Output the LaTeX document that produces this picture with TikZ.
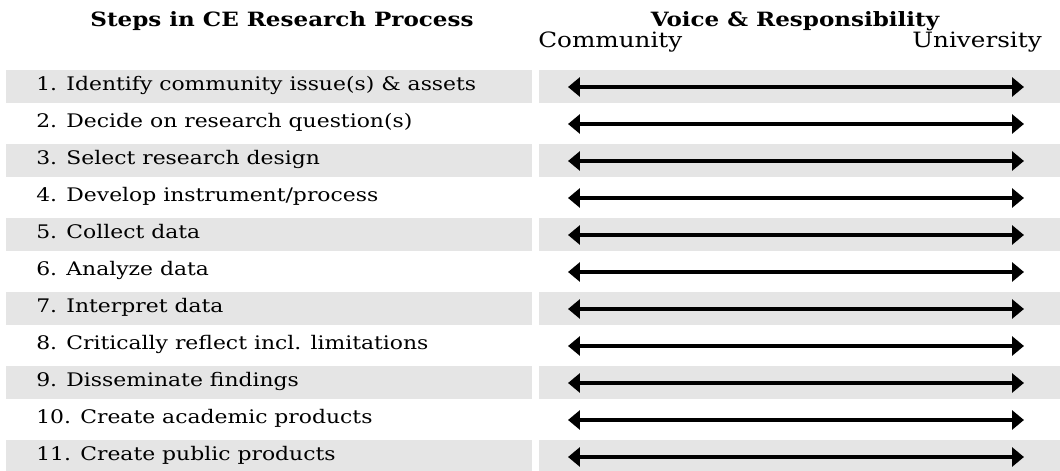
\documentclass[tikz,border=0pt]{standalone}
\usepackage{fontspec}
\setmainfont{DejaVu Serif}[FakeStretch=1.17]
\usetikzlibrary{arrows.meta}

\tikzset{
  stepname/.style={anchor=base west, inner sep=0pt, font=\fontsize{13.3}{15}\selectfont},
  colhead/.style={anchor=base, inner sep=0pt, font=\fontsize{14}{17}\selectfont\bfseries},
  sidehead/.style={inner sep=0pt, font=\fontsize{15}{17}\selectfont},
  stripe/.style={fill=gray!20},
  link/.style={line width=2.5pt, {Triangle[length=8.5pt,width=13.5pt]}-{Triangle[length=8.5pt,width=13.5pt]}}
}

\begin{document}
\begin{tikzpicture}[x=0.025cm,y=-0.025cm]
\useasboundingbox (0,0) rectangle (1060,471);
    % grey stripes, odd rows
    \fill[stripe] (6,70) rectangle (532,103);   \fill[stripe] (539,70) rectangle (1060,103);
    \fill[stripe] (6,144) rectangle (532,177);  \fill[stripe] (539,144) rectangle (1060,177);
    \fill[stripe] (6,218) rectangle (532,251);  \fill[stripe] (539,218) rectangle (1060,251);
    \fill[stripe] (6,292) rectangle (532,325);  \fill[stripe] (539,292) rectangle (1060,325);
    \fill[stripe] (6,366) rectangle (532,399);  \fill[stripe] (539,366) rectangle (1060,399);
    \fill[stripe] (6,440) rectangle (532,471);  \fill[stripe] (539,440) rectangle (1060,471);
    % headings
    \node[colhead] (steps) at (282,27) {Steps in CE Research Process};
    \node[colhead] (voice) at (795,27) {Voice \& Responsibility};
    \node[sidehead, anchor=base west] (comm) at (538,48) {Community};
    \node[sidehead, anchor=base east] (univ) at (1042,48) {University};
    % steps
    \node[stepname] (s1) at (36,91) {1. Identify community issue(s) \& assets};
    \node[stepname] (s2) at (36,128) {2. Decide on research question(s)};
    \node[stepname] (s3) at (36,165) {3. Select research design};
    \node[stepname] (s4) at (36,202) {4. Develop instrument/process};
    \node[stepname] (s5) at (36,239) {5. Collect data};
    \node[stepname] (s6) at (36,276) {6. Analyze data};
    \node[stepname] (s7) at (36,313) {7. Interpret data};
    \node[stepname] (s8) at (36,350) {8. Critically reflect incl. limitations};
    \node[stepname] (s9) at (36,387) {9. Disseminate findings};
    \node[stepname] (s10) at (36,424) {10. Create academic products};
    \node[stepname] (s11) at (36,461) {11. Create public products};
    % arrow ends
    \coordinate (c1) at (568,87);   \coordinate (u1) at (1024,87);
    \coordinate (c2) at (568,124);  \coordinate (u2) at (1024,124);
    \coordinate (c3) at (568,161);  \coordinate (u3) at (1024,161);
    \coordinate (c4) at (568,198);  \coordinate (u4) at (1024,198);
    \coordinate (c5) at (568,235);  \coordinate (u5) at (1024,235);
    \coordinate (c6) at (568,272);  \coordinate (u6) at (1024,272);
    \coordinate (c7) at (568,309);  \coordinate (u7) at (1024,309);
    \coordinate (c8) at (568,346);  \coordinate (u8) at (1024,346);
    \coordinate (c9) at (568,383);  \coordinate (u9) at (1024,383);
    \coordinate (c10) at (568,420); \coordinate (u10) at (1024,420);
    \coordinate (c11) at (568,457); \coordinate (u11) at (1024,457);
    % community <-> university
    \draw[link] (c1) -- (u1);
    \draw[link] (c2) -- (u2);
    \draw[link] (c3) -- (u3);
    \draw[link] (c4) -- (u4);
    \draw[link] (c5) -- (u5);
    \draw[link] (c6) -- (u6);
    \draw[link] (c7) -- (u7);
    \draw[link] (c8) -- (u8);
    \draw[link] (c9) -- (u9);
    \draw[link] (c10) -- (u10);
    \draw[link] (c11) -- (u11);
\end{tikzpicture}
\end{document}
